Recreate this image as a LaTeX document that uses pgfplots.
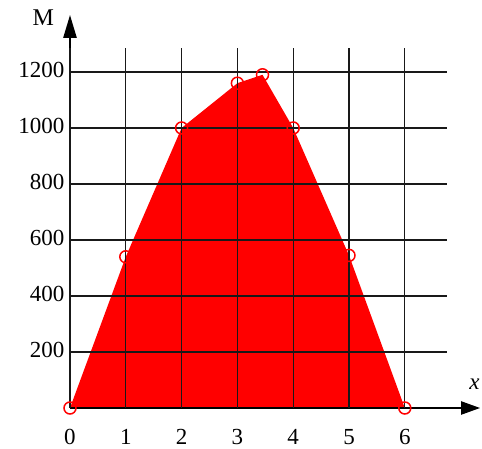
\documentclass[border=0pt]{standalone}
\usepackage{pgfplots}
\pgfplotsset{compat=1.18}
\usepackage{fontspec}
\setmainfont{Liberation Serif}
\usetikzlibrary{arrows.meta}

\begin{document}
\begin{tikzpicture}
\begin{axis}[
  x=55.8pt, y=0.28pt,
  xmin=0, xmax=6.75, ymin=0, ymax=1286,
  axis line style={draw=none},
  grid=major,
  grid style={black!90, line width=1.3pt},
  xtick={0,...,6}, ytick={200,400,...,1200},
  major tick length=0pt,
  tick label style={font=\fontsize{23}{26}\selectfont},
  /pgf/number format/assume math mode=true,
  /pgf/number format/1000 sep={},
  xticklabel style={anchor=base, yshift=-37pt},
  yticklabel style={xshift=-2pt, yshift=2pt},
  axis on top,
  clip=false,
]
% region under the curve
\addplot[fill=red, draw=none] coordinates {
  (0,0) (1,540) (2,1000) (3,1160) (3.45,1190) (4,1000) (5,545) (6,0)
} \closedcycle;
% axes with arrows
\draw[line width=1.2pt, black!75] (axis cs:0,0) -- (axis cs:0,1175);
\draw[line width=2.4pt, -{Triangle[length=23pt,width=13pt]}]
  (axis cs:0,1170) -- (axis cs:0,1404);
\draw[line width=2.2pt, -{Triangle[length=19pt,width=13pt]}]
  (axis cs:0,0) -- (axis cs:7.35,0);
% data points
\addplot[only marks, mark=o, red, mark size=6pt, line width=1.5pt] coordinates {
  (0,0) (1,540) (2,1000) (3,1160) (3.45,1190) (4,1000) (5,545) (6,0)
};
\node[font=\fontsize{24}{27}\selectfont] at (axis cs:-0.48,1393) {M};
\node[font=\fontsize{23}{26}\selectfont\itshape] at (axis cs:7.25,86) {x};
\coordinate (O) at (axis cs:0,0);
\end{axis}
\pgfresetboundingbox
\path[use as bounding box] ([shift={(-70pt,-41pt)}]O) rectangle ([shift={(412pt,408pt)}]O);
\end{tikzpicture}
\end{document}
